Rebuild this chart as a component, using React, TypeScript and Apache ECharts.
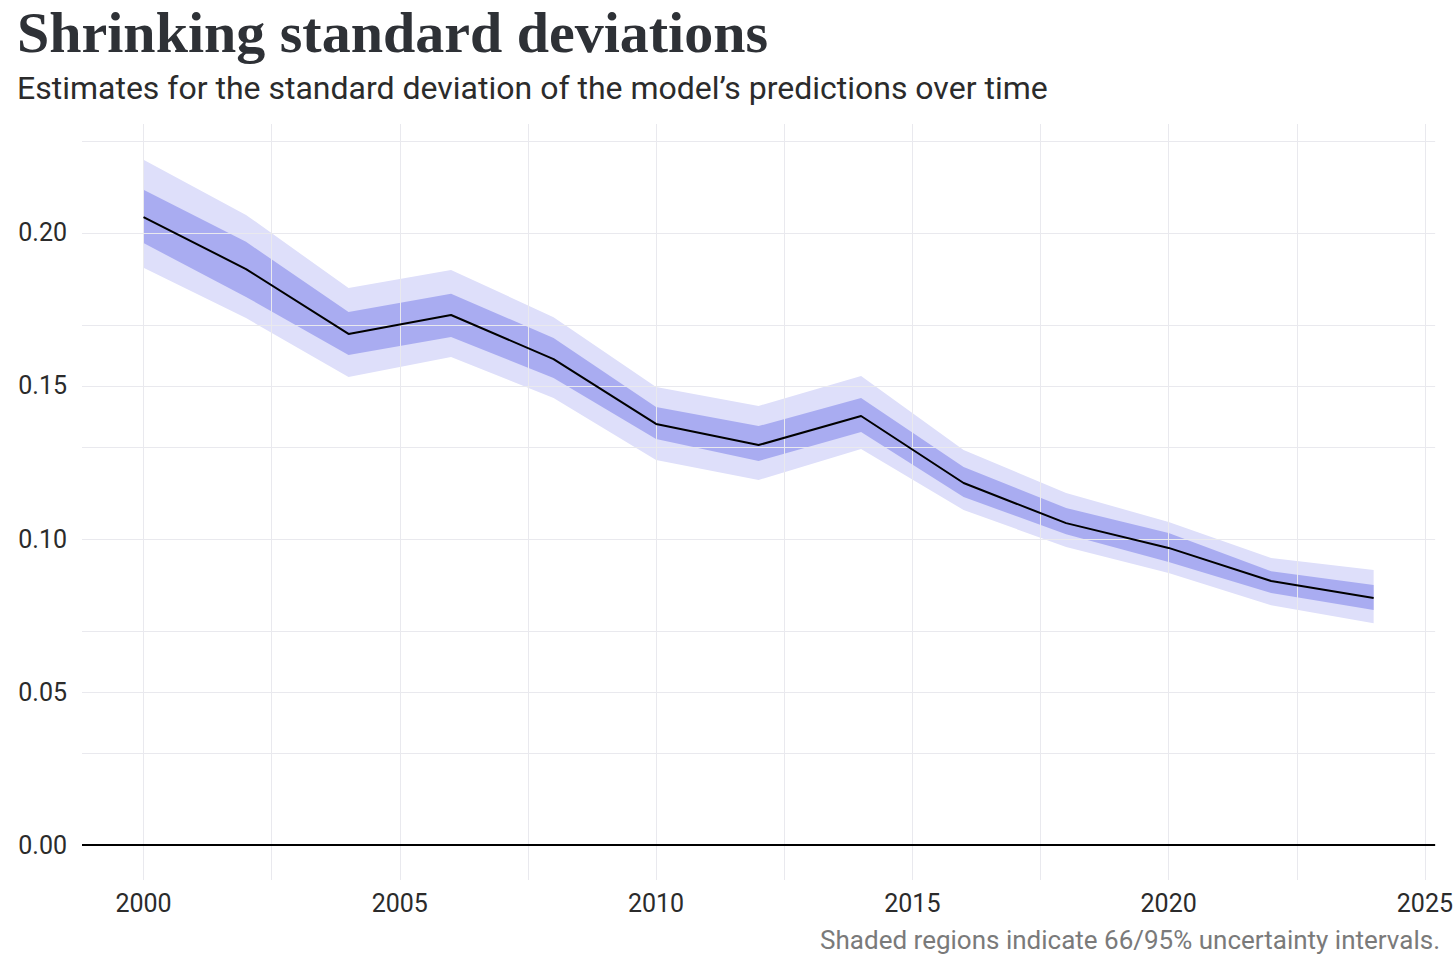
import React, { useEffect, useRef } from "react";
import * as echarts from "echarts";

const years = [2000, 2002, 2004, 2006, 2008, 2010, 2012, 2014, 2016, 2018, 2020, 2022, 2024];
const meanSd = [0.2052, 0.1882, 0.1670, 0.1732, 0.1588, 0.1376, 0.1307, 0.1402, 0.1183, 0.1052, 0.0971, 0.0863, 0.0807];
const upper66 = [0.2141, 0.1971, 0.1742, 0.1801, 0.1657, 0.1431, 0.1369, 0.1461, 0.1235, 0.1101, 0.1020, 0.0895, 0.0850];
const lower66 = [0.1967, 0.1791, 0.1601, 0.1660, 0.1526, 0.1327, 0.1255, 0.1350, 0.1137, 0.1016, 0.0925, 0.0824, 0.0768];
const upper95 = [0.2239, 0.2059, 0.1820, 0.1879, 0.1725, 0.1497, 0.1435, 0.1533, 0.1291, 0.1150, 0.1056, 0.0938, 0.0899];
const lower95 = [0.1886, 0.1722, 0.1529, 0.1595, 0.1461, 0.1258, 0.1193, 0.1294, 0.1095, 0.0974, 0.0889, 0.0784, 0.0725];

const xTickLabels = [2000, 2005, 2010, 2015, 2020, 2025];
const xGridValues = [2000, 2002.5, 2005, 2007.5, 2010, 2012.5, 2015, 2017.5, 2020, 2022.5, 2025];
const yTickLabels = [0, 0.05, 0.1, 0.15, 0.2];
const yGridValues = [0, 0.025, 0.05, 0.075, 0.1, 0.125, 0.15, 0.175, 0.2, 0.225];

const TITLE = "Shrinking standard deviations";
const SUBTITLE = "Estimates for the standard deviation of the model\u2019s predictions over time";
const CAPTION = "Shaded regions indicate 66/95% uncertainty intervals.";

const SANS = "Roboto, 'Noto Sans', sans-serif";

function bandSeries(lo: number[], hi: number[], color: string, z: number) {
  return {
    type: "custom",
    z,
    silent: true,
    clip: true,
    data: years.map((y, i) => [y, lo[i], hi[i]]),
    encode: { x: 0, y: [1, 2] },
    renderItem: (params: any, api: any) => {
      if (params.dataIndex !== 0) return null;
      const pts: number[][] = [];
      for (let i = 0; i < years.length; i++) pts.push(api.coord([years[i], hi[i]]));
      for (let i = years.length - 1; i >= 0; i--) pts.push(api.coord([years[i], lo[i]]));
      return { type: "polygon", shape: { points: pts }, style: { fill: color } };
    },
  };
}

export default function App() {
  const ref = useRef<HTMLDivElement>(null);
  useEffect(() => {
    if (!ref.current) return;
    const chart = echarts.init(ref.current, null, { renderer: "svg" });
    const gridLine = { color: "#e9e9ee", width: 1, type: "solid" };
    chart.setOption({
      animation: false,
      backgroundColor: "#ffffff",
      grid: { left: 82, right: 16, top: 124, bottom: 91, containLabel: false },
      graphic: [
        {
          type: "text",
          left: 17,
          top: 3,
          style: {
            text: TITLE,
            font: "bold 58px 'Liberation Serif', serif",
            fill: "#2e3136",
          },
        },
        {
          type: "text",
          left: 17,
          top: 72,
          style: {
            text: SUBTITLE,
            font: `32px ${SANS}`,
            fill: "#2b2b2b",
          },
        },
        {
          type: "text",
          right: 16,
          top: 927,
          style: {
            text: CAPTION,
            font: `26px ${SANS}`,
            fill: "#7a7a7a",
          },
        },
      ],
      xAxis: {
        type: "value",
        min: 1998.8,
        max: 2025.2,
        axisLine: { show: false },
        axisTick: { show: false },
        splitLine: { show: false },
        axisLabel: {
          customValues: xTickLabels,
          formatter: (v: number) => String(v),
          fontSize: 25,
          fontFamily: SANS,
          color: "#2b2b2b",
          margin: 11,
          showMinLabel: true,
          showMaxLabel: true,
        },
      },
      yAxis: {
        type: "value",
        min: -0.0114,
        max: 0.2356,
        axisLine: { show: false },
        axisTick: { show: false },
        splitLine: { show: false },
        axisLabel: {
          customValues: yTickLabels,
          formatter: (v: number) => v.toFixed(2),
          fontSize: 25,
          fontFamily: SANS,
          color: "#2b2b2b",
          margin: 15,
        },
      },
      series: [
        {
          type: "line",
          z: 0,
          silent: true,
          data: [],
          markLine: {
            silent: true,
            symbol: ["none", "none"],
            label: { show: false },
            lineStyle: gridLine,
            data: [
              ...xGridValues.map((v) => ({ xAxis: v })),
              ...yGridValues.map((v) => ({ yAxis: v })),
            ],
          },
        },
        bandSeries(lower95, upper95, "#dedffa", 2),
        bandSeries(lower66, upper66, "#a9acf1", 3),
        {
          type: "line",
          z: 5,
          silent: true,
          data: years.map((y, i) => [y, meanSd[i]]),
          showSymbol: false,
          symbol: "none",
          lineStyle: { color: "#000000", width: 2 },
          markLine: {
            silent: true,
            symbol: ["none", "none"],
            label: { show: false },
            lineStyle: { color: "#000000", width: 2, type: "solid" },
            data: [{ yAxis: 0 }],
          },
        },
      ],
    });
    return () => chart.dispose();
  }, []);
  return (
    <div
      ref={ref}
      style={{ position: "fixed", left: 0, top: 0, width: 1456, height: 971 }}
    />
  );
}
